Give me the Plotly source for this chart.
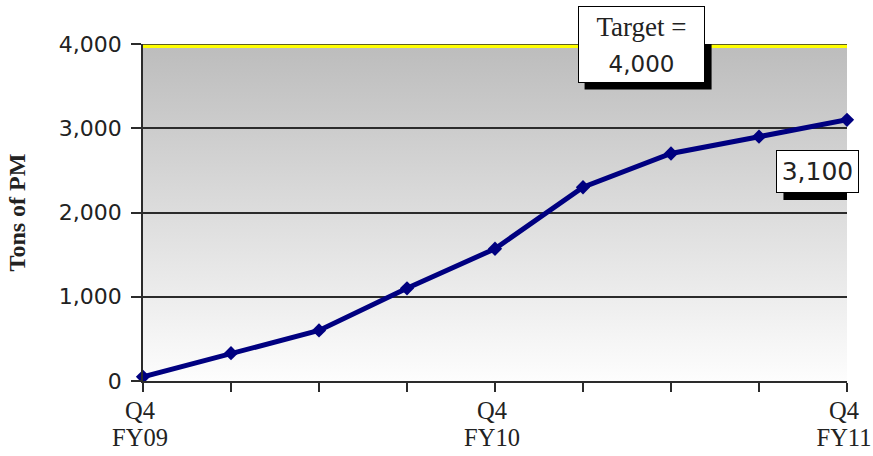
import base64
import plotly.graph_objects as go

# Quarterly cumulative tons of particulate matter (PM) reduced
quarter_top = ["Q4", "", "", "", "Q4", "", "", "", "Q4"]
quarter_fy = ["FY09", "", "", "", "FY10", "", "", "", "FY11"]
tons_pm = [50, 330, 600, 1100, 1570, 2300, 2700, 2900, 3100]
target_tons = 4000
y_tick_values = [0, 1000, 2000, 3000, 4000]

x_pos = list(range(len(tons_pm)))

SERIF = "Liberation Serif, Times New Roman, serif"
SANS = "DejaVu Sans, Tahoma, sans-serif"
INK = "#222222"
NAVY = "#000080"
RULE = "#2b2b2b"

# vertical grey-to-white gradient for the plot background
grad_svg = (
    '<svg xmlns="http://www.w3.org/2000/svg" width="10" height="100" preserveAspectRatio="none">'
    '<defs><linearGradient id="g" x1="0" y1="0" x2="0" y2="1">'
    '<stop offset="0" stop-color="#bcbcbc"/><stop offset="1" stop-color="#fdfdfd"/>'
    '</linearGradient></defs><rect width="10" height="100" fill="url(#g)"/></svg>'
)
grad_uri = "data:image/svg+xml;base64," + base64.b64encode(grad_svg.encode()).decode()

fig = go.Figure()

# target line
fig.add_trace(go.Scatter(
    x=[x_pos[0], x_pos[-1]], y=[target_tons, target_tons],
    mode="lines", line=dict(color="#ffff00", width=8),
    hoverinfo="skip", showlegend=False,
))

# actual progress
fig.add_trace(go.Scatter(
    x=x_pos, y=tons_pm, mode="lines+markers",
    line=dict(color=NAVY, width=5),
    marker=dict(symbol="diamond", size=11, color=NAVY),
    cliponaxis=False, showlegend=False,
))

# carriers for the two label rows under the axis
for ax in ("x2", "x3"):
    fig.add_trace(go.Scatter(
        x=x_pos, y=tons_pm, xaxis=ax, mode="lines",
        line=dict(width=0), opacity=0, hoverinfo="skip", showlegend=False,
    ))

fig.add_layout_image(dict(
    source=grad_uri, xref="paper", yref="paper", x=0, y=1,
    sizex=1, sizey=1, sizing="stretch", layer="below",
))

# dark top gridline drawn above the target line
fig.add_shape(type="line", xref="paper", yref="y", x0=0, x1=1,
              y0=target_tons, y1=target_tons,
              line=dict(color=RULE, width=1.4), layer="above")


def boxed_label(x, y, text, w, h, size):
    half_w, half_h = w / 2, h / 2
    # drop shadow offset down-right
    fig.add_shape(type="rect", xref="x", yref="y",
                  xsizemode="pixel", ysizemode="pixel",
                  xanchor=x, yanchor=y,
                  x0=-half_w + 7, x1=half_w + 7,
                  y0=-half_h - 7, y1=half_h - 7,
                  fillcolor="#000000", line=dict(width=0), layer="above")
    fig.add_annotation(x=x, y=y, text=text, showarrow=False,
                       font=dict(family=SERIF, size=size, color=INK),
                       bgcolor="#ffffff", bordercolor="#000000", borderwidth=1,
                       borderpad=4, width=w - 10, height=h - 10)


boxed_label(5.66, target_tons,
            f"Target =<br><span style='font-family:DejaVu Sans;font-size:23px'>{target_tons:,}</span>",
            127, 77, 27)
boxed_label(7.67, 2488,
            f"<span style='font-family:DejaVu Sans'>{tons_pm[-1]:,}</span>",
            83, 43, 25)

axis_common = dict(
    range=[x_pos[0], x_pos[-1]], tickmode="array", tickvals=x_pos,
    showgrid=False, zeroline=False, automargin=False,
    ticklabeloverflow="allow",
    tickfont=dict(family=SERIF, size=24.5, color=INK),
)

fig.update_layout(
    width=873, height=456,
    margin=dict(l=143, r=26, t=44, b=75),
    paper_bgcolor="#ffffff", plot_bgcolor="rgba(0,0,0,0)",
    showlegend=False,
    xaxis=dict(
        **axis_common, showticklabels=False,
        ticks="outside", ticklen=9, tickwidth=1.5, tickcolor=RULE,
        showline=True, linecolor=RULE, linewidth=1.5,
    ),
    xaxis2=dict(
        **axis_common, ticktext=quarter_top, overlaying="x", anchor="y",
        side="bottom", ticks="", showline=False, ticklabelstandoff=12,
        ticklabelshift=-3,
    ),
    xaxis3=dict(
        **axis_common, ticktext=quarter_fy, overlaying="x", anchor="y",
        side="bottom", ticks="", showline=False, ticklabelstandoff=39,
        ticklabelshift=-3,
    ),
    yaxis=dict(
        range=[0, target_tons], tickmode="array", tickvals=y_tick_values,
        tickformat=",", ticks="outside", ticklen=10, tickwidth=1.5,
        tickcolor=RULE, ticklabelstandoff=5, automargin=False,
        showline=True, linecolor=RULE, linewidth=1.5,
        showgrid=True, gridcolor=RULE, gridwidth=1.6, zeroline=False,
        tickfont=dict(family=SANS, size=22, color=INK),
        title=dict(text="<b>Tons of PM</b>", standoff=26,
                   font=dict(family=SERIF, size=24, color=INK)),
    ),
)

fig.write_html("out.html")
